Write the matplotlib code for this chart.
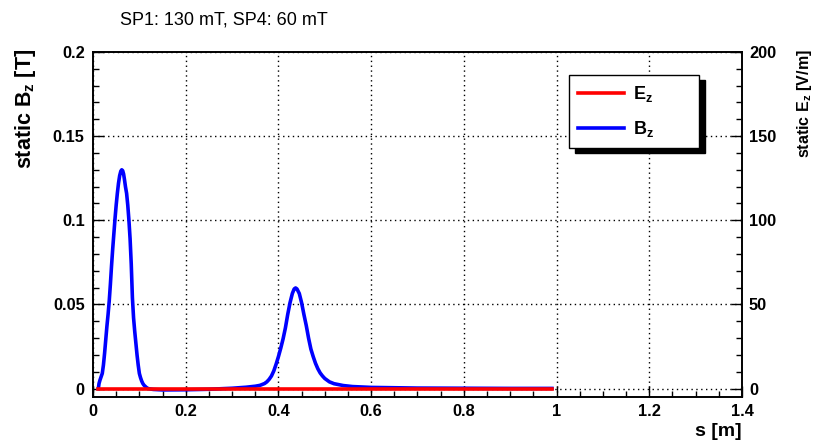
import matplotlib
matplotlib.use("Agg")
import matplotlib.pyplot as plt
from matplotlib.ticker import MultipleLocator
from matplotlib.patches import Rectangle

plt.rcParams["font.family"] = ["Liberation Sans", "DejaVu Sans"]
plt.rcParams["mathtext.fontset"] = "custom"
plt.rcParams["mathtext.rm"] = "Liberation Sans:bold"
plt.rcParams["mathtext.bf"] = "Liberation Sans:bold"
plt.rcParams["mathtext.it"] = "Liberation Sans:bold"

# Solenoid field profile along the beam line
s_B = [0.0115, 0.013, 0.015, 0.0175, 0.020, 0.0225, 0.025, 0.0275, 0.030, 0.0325,
       0.035, 0.0375, 0.040, 0.0425, 0.045, 0.0475, 0.050, 0.0525, 0.055, 0.0575,
       0.060, 0.062, 0.064, 0.066, 0.068, 0.070, 0.0725, 0.075, 0.0775, 0.080,
       0.0825, 0.085, 0.0875, 0.090, 0.0925, 0.095, 0.0975, 0.100, 0.1025, 0.105,
       0.1075, 0.110, 0.115, 0.119, 0.125, 0.130, 0.150, 0.200, 0.250, 0.300,
       0.330, 0.350, 0.360, 0.370, 0.375, 0.380, 0.385, 0.390, 0.395, 0.400,
       0.405, 0.410, 0.415, 0.420, 0.425, 0.430, 0.434, 0.437, 0.440, 0.445,
       0.450, 0.455, 0.460, 0.465, 0.470, 0.475, 0.480, 0.485, 0.490, 0.495,
       0.500, 0.510, 0.520, 0.540, 0.560, 0.600, 0.650, 0.700, 0.800, 0.900,
       0.990]
B_z = [0.000, 0.003, 0.005, 0.007, 0.009, 0.014, 0.021, 0.029, 0.037, 0.044,
       0.052, 0.062, 0.073, 0.083, 0.092, 0.101, 0.109, 0.116, 0.122, 0.1265,
       0.1292, 0.1300, 0.1295, 0.1275, 0.1240, 0.1200, 0.1160, 0.1090, 0.1000, 0.0890,
       0.0740, 0.0540, 0.0420, 0.0340, 0.0270, 0.0200, 0.0140, 0.0090, 0.0065, 0.0045,
       0.0030, 0.0020, 0.0007, 0.0000, -0.0003, -0.0005, -0.0008, -0.0007, -0.0004, 0.0002,
       0.0008, 0.0014, 0.0019, 0.0030, 0.0040, 0.0055, 0.0075, 0.0105, 0.0145, 0.0190,
       0.0240, 0.0295, 0.0360, 0.0440, 0.0510, 0.0565, 0.0592, 0.0598, 0.0592, 0.0565,
       0.0510, 0.0440, 0.0375, 0.0300, 0.0235, 0.0190, 0.0150, 0.0118, 0.0093, 0.0075,
       0.0060, 0.0040, 0.0029, 0.0018, 0.0012, 0.0007, 0.0005, 0.0003, 0.0002, 0.0001,
       0.0001]

# Static longitudinal electric field (switched off)
s_E = [0.01, 0.25, 0.50, 0.75, 0.99]
E_z = [0.0, 0.0, 0.0, 0.0, 0.0]

x_ticks = [0, 0.2, 0.4, 0.6, 0.8, 1, 1.2, 1.4]
x_labels = ["0", "0.2", "0.4", "0.6", "0.8", "1", "1.2", "1.4"]
yB_ticks = [0, 0.05, 0.1, 0.15, 0.2]
yB_labels = ["0", "0.05", "0.1", "0.15", "0.2"]
yE_ticks = [0, 50, 100, 150, 200]
yE_labels = ["0", "50", "100", "150", "200"]

W, H = 814, 443
fig = plt.figure(figsize=(W / 100, H / 100), dpi=100)
ax = fig.add_axes([93 / W, 1 - 397 / H, (742 - 93) / W, (397 - 52) / H])

tick_fs = 11.8
ax.plot(s_B, B_z, color="#0000ff", lw=2.6, solid_joinstyle="round", label=r"B$_{z}$", zorder=3)
ax.set_xlim(0, 1.4)
ax.set_ylim(-0.005, 0.2)
ax.set_xticks(x_ticks, x_labels)
ax.set_yticks(yB_ticks, yB_labels)
ax.xaxis.set_minor_locator(MultipleLocator(0.05))
ax.yaxis.set_minor_locator(MultipleLocator(0.01))
ax.tick_params(which="both", direction="in", top=False, right=False, width=1, colors="black")
ax.tick_params(which="major", length=8, labelsize=tick_fs)
ax.tick_params(which="minor", length=4)
ax.tick_params(axis="y", pad=6)
ax.tick_params(axis="x", pad=5)
for lab in ax.get_xticklabels() + ax.get_yticklabels():
    lab.set_fontweight("bold")
ax.grid(True, which="major", color="black", linestyle=(0, (1, 2.5)), lw=1)
for sp in ax.spines.values():
    sp.set_linewidth(1.2)

ax2 = ax.twinx()
ax2.plot(s_E, E_z, color="#ff0000", lw=2.6, label=r"E$_{z}$", zorder=3)
ax2.set_ylim(-5, 200)
ax2.set_yticks(yE_ticks, yE_labels)
ax2.yaxis.set_minor_locator(MultipleLocator(10))
ax2.tick_params(which="both", direction="in", right=True, left=False, width=1)
ax2.tick_params(which="major", length=8, labelsize=tick_fs, pad=5)
ax2.tick_params(which="minor", length=4)
for lab in ax2.get_yticklabels():
    lab.set_fontweight("bold")
for sp in ax2.spines.values():
    sp.set_linewidth(1.2)

# Titles and axis labels
fig.text(120 / W, 1 - 20 / H, "SP1: 130 mT, SP4: 60 mT", fontsize=13,
         ha="left", va="center")
fig.text(25 / W, 1 - 49 / H, r"static B$_{z}$ [T]", fontsize=15.5, fontweight="bold",
         rotation=90, ha="center", va="top")
fig.text(805 / W, 1 - 49 / H, r"static E$_{z}$ [V/m]", fontsize=11.5, fontweight="bold",
         rotation=90, ha="center", va="top")
fig.text(742 / W, 1 - 432 / H, "s [m]", fontsize=14, fontweight="bold",
         ha="right", va="center")

# Legend with a solid drop shadow
h1, l1 = ax2.get_legend_handles_labels()
h2, l2 = ax.get_legend_handles_labels()
leg = ax2.legend(h1 + h2, l1 + l2, loc="upper left", mode="expand",
                 bbox_to_anchor=(569 / W, 1 - 150 / H, 130 / W, 75 / H),
                 bbox_transform=fig.transFigure,
                 frameon=True, fancybox=False, framealpha=1, edgecolor="black",
                 prop={"weight": "bold", "size": 13}, handlelength=2.55,
                 handletextpad=0.5, labelspacing=0.85, borderpad=0.5,
                 borderaxespad=0)
leg.get_frame().set_linewidth(1.0)
fig.canvas.draw()
bb = leg.get_window_extent()
shadow = Rectangle((bb.x0 + 6, bb.y0 - 5), bb.width, bb.height, transform=None,
                   facecolor="black", edgecolor="black", zorder=leg.get_zorder() - 0.5)
ax2.add_artist(shadow)
shadow.set_transform(None)

fig.savefig("out.png", dpi=100)
